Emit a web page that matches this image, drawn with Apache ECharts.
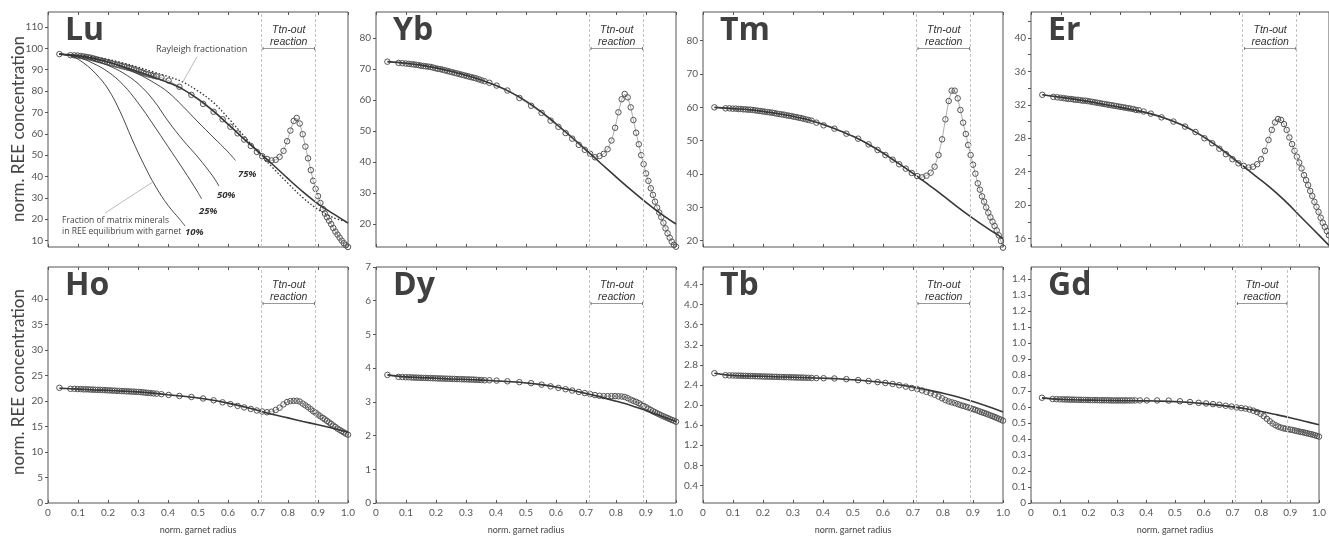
<!DOCTYPE html>
<html>
<head>
<meta charset="utf-8">
<script src="https://cdn.jsdelivr.net/npm/echarts@6/dist/echarts.min.js"></script>
<style>
  html, body { margin: 0; padding: 0; background: #fff; }
  #chart { width: 1329px; height: 539px; }
</style>
</head>
<body>
<div id="chart"></div>
<script>
// ---- measured profile: normalized garnet radius of every analysis spot ----
const radius = [0.038,
  0.075,0.088,0.099,0.109,0.118,0.126,0.134,
  0.142,0.15,0.158,0.166,0.174,0.182,0.19,0.198,0.206,0.214,0.222,0.23,0.238,0.246,0.254,0.262,0.27,0.278,0.286,0.294,0.302,0.31,0.318,0.326,0.334,
  0.343,0.352,0.362,
  0.378,0.402,0.438,0.478,0.517, 0.552,0.582,0.608,0.632,0.654, 0.676,0.696,0.714,0.73,0.745, 0.759,0.772,0.785,0.797,0.808,
  0.819,0.829,0.839,0.849,0.858, 0.867,0.876,0.884,0.892,0.9, 0.908,0.916,0.923,0.93,0.937, 0.944,0.951,0.958,0.965,0.972,
  0.979,0.986,0.993,1.0];

// measured normalized REE concentrations along the profile
const luData = [97.3,
  96.8,96.7,96.6,96.4,96.2,96.0,95.8,
  95.6,95.3,95.0,94.7,94.4,94.1,93.8,93.5,93.2,92.9,92.6,92.3,92.0,91.7,91.4,91.1,90.8,90.5,90.1,89.7,89.3,88.9,88.5,88.1,87.8,
  87.5,87.1,86.8,
  86.3,84.9,82.0,78.2,74.0, 70.3,66.8,63.3,60.2,57.3, 54.3,51.5,49.5,48.2,47.5, 47.8,49.2,52.0,56.5,61.5,
  66.0,67.4,64.8,59.8,54.0, 48.5,43.0,38.0,34.2,30.8, 27.6,24.8,22.6,20.9,19.3, 17.7,15.9,14.2,12.8,11.4,
  10.0,8.8,7.8,7.0];
const ybData = [72.3,
  71.9,71.8,71.7,71.6,71.5,71.4,71.3,
  71.2,71.0,70.9,70.8,70.7,70.6,70.4,70.2,70.0,69.9,69.7,69.5,69.3,69.1,68.9,68.7,68.5,68.3,68.1,67.9,67.7,67.5,67.3,67.1,66.9,
  66.6,66.3,66.0,
  65.5,64.6,63.0,60.6,58.1, 55.8,53.3,51.3,49.3,47.5, 45.5,43.9,42.6,41.5,41.9, 42.6,44.1,46.9,51.0,56.0,
  60.2,61.9,60.8,57.6,53.5, 49.4,45.7,42.2,39.3,36.3, 33.9,31.5,29.4,27.2,25.3, 23.7,22.2,20.4,18.6,17.0,
  15.6,14.3,13.3,12.7];
const tmData = [60.0,
  59.7,59.7,59.6,59.6,59.5,59.5,59.4,
  59.4,59.3,59.3,59.2,59.1,59.0,58.9,58.8,58.7,58.6,58.5,58.4,58.3,58.1,58.0,57.9,57.8,57.6,57.5,57.4,57.2,57.1,56.9,56.8,56.6,
  56.4,56.2,56.0,
  55.4,54.6,53.6,52.1,50.6, 48.9,47.2,45.7,44.3,42.9, 41.6,40.3,39.4,39.0,39.5, 40.4,42.2,45.7,50.4,56.4,
  61.9,65.0,65.0,62.7,59.2, 55.4,52.0,48.7,45.7,42.8, 40.1,37.2,35.3,33.3,31.7, 30.0,28.4,27.0,25.7,24.4,
  23.1,21.6,19.9,17.9];
const erData = [33.2,
  32.95,32.9,32.85,32.8,32.75,32.7,32.7,
  32.65,32.6,32.6,32.55,32.5,32.5,32.45,32.4,32.35,32.3,32.25,32.2,32.15,32.1,32.05,32.0,31.95,31.9,31.85,31.8,31.75,31.7,31.65,31.6,31.55,
  31.5,31.4,31.35,
  31.2,30.95,30.5,30.0,29.4, 28.75,28.0,27.4,26.75,26.1, 25.5,25.0,24.7,24.5,24.6, 24.9,25.5,26.5,27.8,29.0,
  29.9,30.3,30.2,29.7,29.0, 28.1,27.3,26.5,25.8,25.1, 24.4,23.6,23.0,22.4,21.7, 21.1,20.4,19.8,19.2,18.5,
  17.9,17.4,16.9,16.4];
const hoData = [22.6,
  22.4,22.4,22.35,22.35,22.3,22.3,22.3,
  22.25,22.25,22.2,22.2,22.2,22.15,22.15,22.1,22.1,22.05,22.05,22.0,22.0,21.95,21.95,21.9,21.9,21.85,21.85,21.8,21.8,21.75,21.7,21.65,21.6,
  21.55,21.5,21.45,
  21.35,21.2,21.0,20.8,20.5, 20.15,19.75,19.4,19.05,18.75, 18.45,18.15,17.95,17.8,17.9, 18.25,18.7,19.35,19.8,20.0,
  20.05,20.05,19.9,19.5,19.15, 18.8,18.4,18.0,17.7,17.35, 17.0,16.7,16.4,16.1,15.8, 15.5,15.2,14.9,14.6,14.35,
  14.1,13.85,13.6,13.4];
const dyData = [3.80,
  3.74,3.735,3.73,3.73,3.725,3.72,3.72,
  3.715,3.715,3.71,3.71,3.705,3.705,3.70,3.70,3.695,3.695,3.69,3.69,3.685,3.685,3.68,3.68,3.675,3.675,3.67,3.67,3.665,3.665,3.66,3.66,3.655,
  3.65,3.645,3.64,
  3.64,3.63,3.61,3.585,3.555, 3.51,3.46,3.415,3.375,3.335, 3.295,3.26,3.23,3.20,3.18, 3.17,3.17,3.17,3.17,3.165,
  3.16,3.145,3.11,3.065,3.03, 3.0,2.96,2.92,2.88,2.84, 2.80,2.76,2.72,2.69,2.66, 2.63,2.60,2.57,2.545,2.52,
  2.49,2.465,2.44,2.41];
const tbData = [2.635,
  2.595,2.59,2.59,2.588,2.586,2.585,2.583,
  2.582,2.58,2.578,2.577,2.575,2.573,2.572,2.57,2.569,2.567,2.566,2.565,2.563,2.562,2.56,2.559,2.557,2.556,2.555,2.553,2.552,2.55,2.549,2.548,2.547,
  2.545,2.543,2.54,
  2.537,2.535,2.53,2.517,2.497, 2.478,2.458,2.44,2.42,2.395, 2.368,2.34,2.318,2.292,2.262, 2.235,2.205,2.17,2.135,2.1,
  2.073,2.055,2.04,2.02,2.0, 1.985,1.968,1.953,1.938,1.92, 1.905,1.888,1.872,1.857,1.843, 1.828,1.812,1.795,1.78,1.763,
  1.745,1.727,1.71,1.69];
const gdData = [0.658,
  0.65,0.649,0.648,0.648,0.647,0.647,0.646,
  0.646,0.646,0.645,0.645,0.645,0.644,0.644,0.644,0.643,0.643,0.643,0.643,0.642,0.642,0.642,0.642,0.642,0.641,0.641,0.641,0.641,0.641,0.641,0.641,0.641,
  0.641,0.641,0.641,
  0.641,0.641,0.641,0.64,0.636, 0.631,0.626,0.622,0.618,0.614, 0.608,0.603,0.597,0.593,0.59, 0.584,0.577,0.568,0.557,0.543,
  0.526,0.511,0.497,0.486,0.478, 0.472,0.467,0.464,0.461,0.459, 0.456,0.453,0.45,0.447,0.444, 0.442,0.439,0.436,0.433,0.43,
  0.427,0.423,0.419,0.415];

// ---- modelled growth zoning (solid curves) ----
const modelRadius = [0.038,0.1,0.15,0.2,0.25,0.3,0.35,0.4,0.45,0.5,0.55,0.6,0.65,0.7,0.75,0.8,0.85,0.9,0.95,1.0];
const luModel = [97.3,96.5,95.3,93.6,91.4,89.0,86.6,84.0,80.8,76.3,70.8,64.5,58.0,51.8,45.5,39.0,32.8,27.2,22.6,18.2];
const ybModel = [72.3,71.8,71.2,70.3,69.2,67.9,66.4,64.6,62.4,59.6,56.2,52.3,48.2,43.9,39.5,35.2,31.0,27.0,23.3,20.0];
const tmModel = [60.0,59.6,59.3,58.8,58.1,57.3,56.3,54.9,53.2,51.3,49.0,46.3,43.3,40.2,36.9,33.5,30.0,26.7,23.6,20.7];
const erModel = [33.2,32.9,32.65,32.35,32.0,31.7,31.35,30.95,30.4,29.7,28.8,27.7,26.4,25.0,23.6,22.2,20.6,18.8,17.0,15.2];
const hoModel = [22.5,22.35,22.2,22.1,21.95,21.8,21.55,21.25,20.95,20.6,20.15,19.6,18.95,18.15,17.35,16.7,16.0,15.35,14.65,13.9];
const dyModel = [3.80,3.74,3.72,3.70,3.68,3.665,3.645,3.62,3.595,3.56,3.51,3.44,3.35,3.25,3.14,3.02,2.89,2.74,2.58,2.42];
const tbModel = [2.635,2.59,2.58,2.575,2.565,2.555,2.545,2.535,2.525,2.505,2.48,2.45,2.41,2.36,2.30,2.235,2.16,2.07,1.97,1.86];
const gdModel = [0.657,0.648,0.645,0.643,0.641,0.64,0.639,0.638,0.636,0.633,0.628,0.621,0.612,0.601,0.588,0.572,0.553,0.533,0.511,0.489];

// Lu: Rayleigh fractionation (dotted) on the model radii
const luRayleigh = [97.3,96.8,96.0,94.8,93.2,91.2,89.0,86.8,84.2,80.0,74.8,67.5,59.5,51.5,44.0,36.8,30.0,24.6,20.8,18.6];

// Lu: fraction of matrix minerals in REE equilibrium with garnet
const frac10Radius = [0.038,0.08,0.12,0.16,0.2,0.24,0.28,0.32,0.36,0.4,0.44,0.457];
const frac10Lu     = [97.3,96.2,93.0,88.0,81.0,70.5,57.5,45.5,35.0,26.5,19.8,16.8];
const frac25Radius = [0.038,0.1,0.15,0.2,0.25,0.3,0.35,0.4,0.45,0.5,0.512];
const frac25Lu     = [97.3,95.8,93.0,89.0,83.0,74.5,64.5,54.0,43.5,32.5,29.5];
const frac50Radius = [0.038,0.1,0.15,0.2,0.25,0.3,0.35,0.4,0.45,0.5,0.55,0.57];
const frac50Lu     = [97.3,96.2,94.5,92.0,88.5,83.5,76.0,66.0,57.0,49.0,40.0,35.5];
const frac75Radius = [0.038,0.1,0.15,0.2,0.25,0.3,0.35,0.4,0.45,0.5,0.55,0.6,0.625];
const frac75Lu     = [97.3,96.5,95.3,93.6,91.2,88.0,84.2,79.5,72.8,65.5,58.5,51.5,47.5];
const fractionLabels = ['10%','25%','50%','75%'];

// titanite-out reaction interval (normalized radius)
const ttnOut = [0.715, 0.89];

// y-axis tick labels of each panel
const luTicks = [10,20,30,40,50,60,70,80,90,100,110];
const ybTicks = [20,30,40,50,60,70,80];
const tmTicks = [20,30,40,50,60,70,80];
const erLabels = [16,20,24,28,32,36,40];
const erTicks = [16,18,20,22,24,26,28,30,32,34,36,38,40,42];
const hoTicks = [0,5,10,15,20,25,30,35,40];
const dyTicks = [0,1,2,3,4,5,6,7];
const tbTicks = [0.4,0.8,1.2,1.6,2.0,2.4,2.8,3.2,3.6,4.0,4.4];
const gdTicks = [0,0.1,0.2,0.3,0.4,0.5,0.6,0.7,0.8,0.9,1.0,1.1,1.2,1.3,1.4];

const elements = ['Lu','Yb','Tm','Er','Ho','Dy','Tb','Gd'];
const measured = [luData, ybData, tmData, erData, hoData, dyData, tbData, gdData];
const models = [luModel, ybModel, tmModel, erModel, hoModel, dyModel, tbModel, gdModel];

const fmt0 = v => String(v);
const fmt1 = v => v.toFixed(1);
const fmtGd = v => v === 0 ? '0' : v.toFixed(1);
const yAxesCfg = [
  { min: 7,    max: 117,   labels: luTicks,  ticks: luTicks,  f: fmt0 },
  { min: 12.6, max: 88.3,  labels: ybTicks,  ticks: ybTicks,  f: fmt0 },
  { min: 18.1, max: 88.6,  labels: tmTicks,  ticks: tmTicks,  f: fmt0 },
  { min: 15,   max: 43.1,  labels: erLabels, ticks: erTicks,  f: fmt0 },
  { min: 0,    max: 46.3,  labels: hoTicks,  ticks: hoTicks,  f: fmt0 },
  { min: 0,    max: 7,     labels: dyTicks,  ticks: dyTicks,  f: fmt0 },
  { min: 0.05, max: 4.75,  labels: tbTicks,  ticks: tbTicks,  f: fmt1 },
  { min: 0,    max: 1.475, labels: gdTicks,  ticks: gdTicks,  f: fmtGd }
];

// ---- layout ----
const colLeft = [48, 376, 703, 1031];
const colWidth = [300, 300, 300, 298];
const rowTop = [12, 267];
const rowHeight = [235, 236];

const AXIS = '#555';
const TICK_TEXT = '#555';
const NUM_FONT = 'Lato, "Open Sans", sans-serif';

const zip = (xs, ys) => xs.map((x, k) => [x, ys[k]]);
const fmtX = v => (v === 0 ? '0' : v.toFixed(1));

const grids = [], xAxes = [], yAxes = [], series = [];
const dataSeriesIndex = [];

elements.forEach((el, i) => {
  const row = i < 4 ? 0 : 1, col = i % 4;
  grids.push({
    left: colLeft[col], top: rowTop[row], width: colWidth[col], height: rowHeight[row],
    show: true, borderColor: AXIS, borderWidth: 1, backgroundColor: 'transparent', containLabel: false
  });
  // bottom axis
  xAxes.push({
    type: 'value', gridIndex: i, min: 0, max: 1, interval: 0.1,
    axisLine: { show: false },
    axisTick: { show: true, inside: true, length: 3, lineStyle: { color: AXIS, width: 1 } },
    axisLabel: { show: row === 1, formatter: fmtX, fontSize: 10, color: TICK_TEXT, margin: 5, fontFamily: NUM_FONT },
    splitLine: { show: false },
    name: row === 1 ? 'norm. garnet radius' : '',
    nameLocation: 'middle', nameGap: 23,
    nameTextStyle: { fontSize: 9, color: '#444', fontFamily: NUM_FONT }
  });
  // top axis (ticks only)
  xAxes.push({
    type: 'value', gridIndex: i, position: 'top', min: 0, max: 1, interval: 0.1,
    axisLine: { show: false },
    axisTick: { show: true, inside: true, length: 3, lineStyle: { color: AXIS, width: 1 } },
    axisLabel: { show: false }, splitLine: { show: false }
  });
  const yc = yAxesCfg[i];
  yAxes.push({
    type: 'value', gridIndex: i, min: yc.min, max: yc.max,
    axisLine: { show: false },
    axisTick: { show: true, inside: false, length: 3, customValues: yc.ticks, lineStyle: { color: AXIS, width: 1 } },
    axisLabel: { customValues: yc.labels, formatter: yc.f, fontSize: 10, color: TICK_TEXT, margin: 5, fontFamily: NUM_FONT },
    splitLine: { show: false }
  });

  // measured spots
  dataSeriesIndex.push(series.length);
  series.push({
    type: 'line', name: el + ' measured', xAxisIndex: 2 * i, yAxisIndex: i,
    data: zip(radius, measured[i]),
    symbol: 'circle', symbolSize: 5.5, showSymbol: true, clip: false,
    itemStyle: { color: 'rgba(255,255,255,0)', borderColor: '#555', borderWidth: 1 },
    lineStyle: { color: '#999', width: 0.8 },
    z: 3, animation: false, silent: true,
    markLine: {
      silent: true, symbol: 'none', animation: false,
      label: { show: false },
      lineStyle: { color: '#c4c4c4', type: [3, 2], width: 1 },
      data: ttnOut.map(v => ({ xAxis: v }))
    }
  });
  // model curve
  series.push({
    type: 'line', name: el + ' model', xAxisIndex: 2 * i, yAxisIndex: i,
    data: zip(modelRadius, models[i]), smooth: 0.35,
    symbol: 'none', lineStyle: { color: '#383838', width: 1.6 },
    z: 4, animation: false, silent: true
  });
});

// Lu extras: Rayleigh fractionation and partial-equilibrium curves
series.push({
  type: 'line', name: 'Rayleigh fractionation', xAxisIndex: 0, yAxisIndex: 0,
  data: zip(modelRadius, luRayleigh), smooth: 0.35, symbol: 'none',
  lineStyle: { color: '#333', width: 1.3, type: [1.5, 2] }, z: 4, animation: false, silent: true
});
[[frac10Radius, frac10Lu], [frac25Radius, frac25Lu], [frac50Radius, frac50Lu], [frac75Radius, frac75Lu]].forEach((c, k) => {
  series.push({
    type: 'line', name: fractionLabels[k], xAxisIndex: 0, yAxisIndex: 0,
    data: zip(c[0], c[1]), smooth: 0.4, symbol: 'none',
    lineStyle: { color: '#333', width: 0.9 }, z: 4, animation: false, silent: true
  });
});

const chart = echarts.init(document.getElementById('chart'), null, { renderer: 'canvas' });
chart.setOption({
  backgroundColor: '#fff',
  animation: false,
  grid: grids, xAxis: xAxes, yAxis: yAxes, series: series
});

// ---- annotations placed through the axes ----
const toPx = (i, x, y) => chart.convertToPixel({ seriesIndex: dataSeriesIndex[i] }, [x, y]);
const graphics = [];
const TXT = '#333';

elements.forEach((el, i) => {
  const row = i < 4 ? 0 : 1, col = i % 4;
  const top = rowTop[row], left = colLeft[col];
  // element symbol
  graphics.push({
    type: 'text', x: left + 17, y: top + 19,
    style: { text: el, font: 'bold 32px "Open Sans", sans-serif', fill: '#404040', textVerticalAlign: 'middle' },
    silent: true, z: 10
  });
  // titanite-out bracket
  const x1 = toPx(i, ttnOut[0], yAxesCfg[i].min)[0];
  const x2 = toPx(i, ttnOut[1], yAxesCfg[i].min)[0];
  const xm = (x1 + x2) / 2, yb = top + 36.5;
  graphics.push(
    { type: 'text', x: xm, y: top + 18, style: { text: 'Ttn-out', font: 'italic 10.5px "Liberation Sans", Arial, sans-serif', fill: TXT, textAlign: 'center', textVerticalAlign: 'middle' }, silent: true, z: 10 },
    { type: 'text', x: xm, y: top + 30, style: { text: 'reaction', font: 'italic 10.5px "Liberation Sans", Arial, sans-serif', fill: TXT, textAlign: 'center', textVerticalAlign: 'middle' }, silent: true, z: 10 },
    { type: 'line', shape: { x1: x1, y1: yb, x2: x2, y2: yb }, style: { stroke: '#999', lineWidth: 1 }, silent: true, z: 10 },
    { type: 'line', shape: { x1: x1 + 0.5, y1: yb - 1.5, x2: x1 + 0.5, y2: yb + 1.5 }, style: { stroke: '#777', lineWidth: 1 }, silent: true, z: 10 },
    { type: 'line', shape: { x1: x2 - 0.5, y1: yb - 1.5, x2: x2 - 0.5, y2: yb + 1.5 }, style: { stroke: '#777', lineWidth: 1 }, silent: true, z: 10 }
  );
});

// y-axis titles
[[0, 129], [1, 382]].forEach(([row, yc]) => {
  graphics.push({
    type: 'text', x: 19, y: yc, rotation: Math.PI / 2,
    style: { text: 'norm. REE concentration', font: '17px Lato, "Open Sans", sans-serif', fill: '#444', textAlign: 'center', textVerticalAlign: 'middle' },
    silent: true
  });
});

// Lu annotations
const SMALL = '8.5px "Open Sans", sans-serif';
const pRay = toPx(0, 0.36, 99.4);
graphics.push({ type: 'text', x: pRay[0], y: pRay[1], style: { text: 'Rayleigh fractionation', font: '9px "Open Sans", sans-serif', fill: '#444', textVerticalAlign: 'middle' }, silent: true, z: 10 });
const rA = toPx(0, 0.497, 96.1), rB = toPx(0, 0.45, 84.4);
graphics.push({ type: 'line', shape: { x1: rA[0], y1: rA[1], x2: rB[0], y2: rB[1] }, style: { stroke: '#aaa', lineWidth: 0.8 }, silent: true, z: 10 });
const pF1 = toPx(0, 0.047, 19.2), pF2 = toPx(0, 0.047, 14.0);
graphics.push({ type: 'text', x: pF1[0], y: pF1[1], style: { text: 'Fraction of matrix minerals', font: SMALL, fill: '#444', textVerticalAlign: 'middle' }, silent: true, z: 10 });
graphics.push({ type: 'text', x: pF2[0], y: pF2[1], style: { text: 'in REE equilibrium with garnet', font: SMALL, fill: '#444', textVerticalAlign: 'middle' }, silent: true, z: 10 });
const fA = toPx(0, 0.19, 22.9), fB = toPx(0, 0.35, 37.5);
graphics.push({ type: 'line', shape: { x1: fA[0], y1: fA[1], x2: fB[0], y2: fB[1] }, style: { stroke: '#aaa', lineWidth: 0.8 }, silent: true, z: 10 });
const fracLabelAt = [[0.457, 14.0], [0.503, 23.9], [0.563, 31.4], [0.633, 41.2]];
fracLabelAt.forEach((p, k) => {
  const q = toPx(0, p[0], p[1]);
  graphics.push({ type: 'text', x: q[0], y: q[1], style: { text: fractionLabels[k], font: 'italic bold 9.5px "Open Sans", sans-serif', fill: '#333', textVerticalAlign: 'middle' }, silent: true, z: 10 });
});

chart.setOption({ graphic: graphics });
</script>
</body>
</html>
